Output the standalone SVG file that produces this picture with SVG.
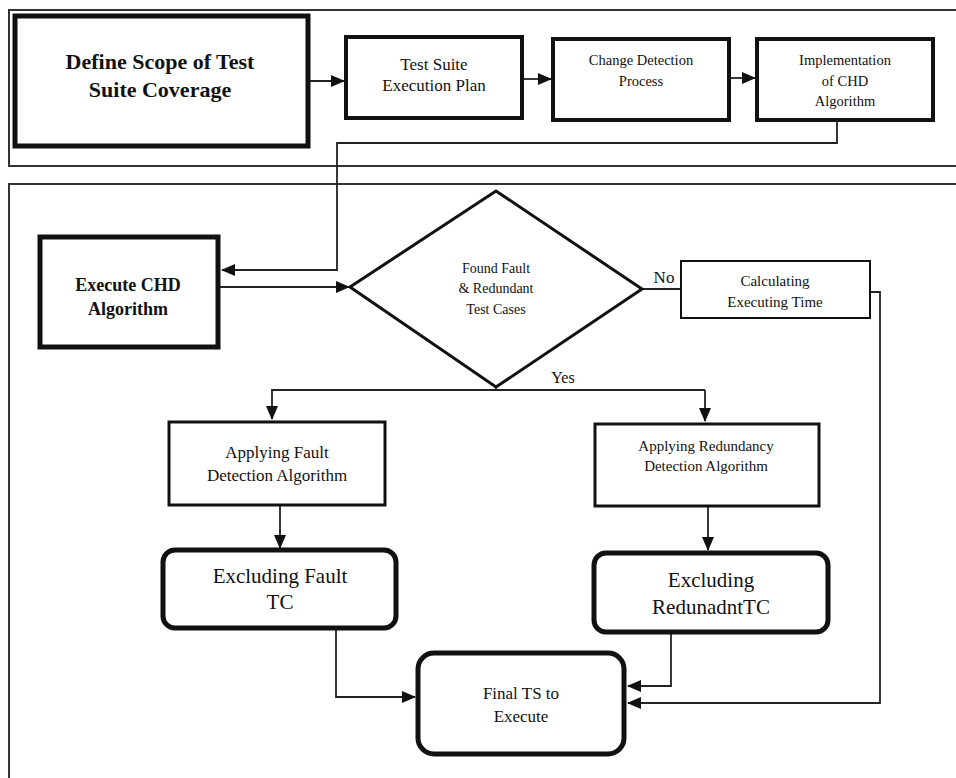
<svg xmlns="http://www.w3.org/2000/svg" width="956" height="778" viewBox="0 0 956 778" font-family="'Liberation Serif', 'DejaVu Serif', serif">
<style>
text{fill:#111;text-anchor:middle}
.frame{fill:none;stroke:#333;stroke-width:2}
.box{fill:#fff;stroke:#111}
.c{fill:none;stroke:#222;stroke-width:1.8}
</style>
<defs>
<marker id="ahL" markerWidth="14" markerHeight="12" refX="13" refY="6" orient="auto" markerUnits="userSpaceOnUse" viewBox="0 0 14 12"><path d="M0,0 L14,6 L0,12 z" fill="#111"/></marker>
</defs>
<rect width="956" height="778" fill="#fff"/>
<g id="frames">
<path class="frame" d="M958,10 H9 V166 H958"/>
<path class="frame" d="M958,184 H9 V780"/>
</g>
<g id="connectors">
<path class="c" d="M308,81 H344" marker-end="url(#ahL)"/>
<path class="c" d="M524,79 H551" marker-end="url(#ahL)"/>
<path class="c" d="M731,78 H755" marker-end="url(#ahL)"/>
<path class="c" d="M837,121 V143 H337 V270 H222" marker-end="url(#ahL)"/>
<path class="c" d="M219,287 H349" marker-end="url(#ahL)"/>
<path class="c" d="M642,289 H681"/>
<path class="c" d="M870,292 H880 V703 H628" marker-end="url(#ahL)"/>
<path class="c" d="M496,388 V390"/>
<path class="c" d="M705,390 H272 V419" marker-end="url(#ahL)"/>
<path class="c" d="M705,390 V421" marker-end="url(#ahL)"/>
<path class="c" d="M280,505 V548" marker-end="url(#ahL)"/>
<path class="c" d="M708,506 V550" marker-end="url(#ahL)"/>
<path class="c" d="M336,628 V697 H415" marker-end="url(#ahL)"/>
<path class="c" d="M671,632 V686 H628" marker-end="url(#ahL)"/>
<text x="664" y="283" font-size="17">No</text>
<text x="563" y="383" font-size="16">Yes</text>
</g>
<g id="n-define">
<rect class="box" x="15" y="16" width="293" height="130" stroke-width="5"/>
<text x="160" y="69" font-size="22" font-weight="bold">Define Scope of Test</text>
<text x="160" y="97" font-size="22" font-weight="bold">Suite Coverage</text>
</g>
<g id="n-plan">
<rect class="box" x="346" y="37" width="176" height="81" stroke-width="4"/>
<text x="434" y="70" font-size="17">Test Suite</text>
<text x="434" y="91" font-size="17">Execution Plan</text>
</g>
<g id="n-change">
<rect class="box" x="553" y="39" width="176" height="81" stroke-width="4"/>
<text x="641" y="65" font-size="14.5">Change Detection</text>
<text x="641" y="86" font-size="14.5">Process</text>
</g>
<g id="n-impl">
<rect class="box" x="757" y="39" width="176" height="81" stroke-width="4"/>
<text x="845" y="65" font-size="14.5">Implementation</text>
<text x="845" y="86" font-size="14.5">of CHD</text>
<text x="845" y="106" font-size="14.5">Algorithm</text>
</g>
<g id="n-exec">
<rect class="box" x="40" y="237" width="178" height="110" stroke-width="5"/>
<text x="128" y="291" font-size="18" font-weight="bold">Execute CHD</text>
<text x="128" y="315" font-size="18" font-weight="bold">Algorithm</text>
</g>
<g id="n-decision">
<path class="box" d="M350,287 L496,191 L642,289 L496,387 Z" stroke-width="3"/>
<text x="496" y="273" font-size="14">Found Fault</text>
<text x="496" y="293" font-size="14">&amp; Redundant</text>
<text x="496" y="314" font-size="14">Test Cases</text>
</g>
<g id="n-calc">
<rect class="box" x="681" y="261" width="189" height="57" stroke-width="2"/>
<text x="775" y="286" font-size="15">Calculating</text>
<text x="775" y="307" font-size="15">Executing Time</text>
</g>
<g id="n-applyfault">
<rect class="box" x="169" y="422" width="216" height="83" stroke-width="3"/>
<text x="277" y="458" font-size="17">Applying Fault</text>
<text x="277" y="481" font-size="17">Detection Algorithm</text>
</g>
<g id="n-applyred">
<rect class="box" x="595" y="424" width="224" height="82" stroke-width="3"/>
<text x="706" y="451" font-size="15">Applying Redundancy</text>
<text x="706" y="471" font-size="15">Detection Algorithm</text>
</g>
<g id="n-exfault">
<rect class="box" x="163" y="550" width="233" height="78" rx="12" stroke-width="5"/>
<text x="280" y="583" font-size="21">Excluding Fault</text>
<text x="280" y="609" font-size="21">TC</text>
</g>
<g id="n-exred">
<rect class="box" x="594" y="553" width="234" height="79" rx="12" stroke-width="5"/>
<text x="711" y="587" font-size="21">Excluding</text>
<text x="711" y="614" font-size="21">RedunadntTC</text>
</g>
<g id="n-final">
<rect class="box" x="418" y="653" width="206" height="101" rx="16" stroke-width="5"/>
<text x="521" y="699" font-size="17">Final TS to</text>
<text x="521" y="722" font-size="17">Execute</text>
</g>
</svg>
